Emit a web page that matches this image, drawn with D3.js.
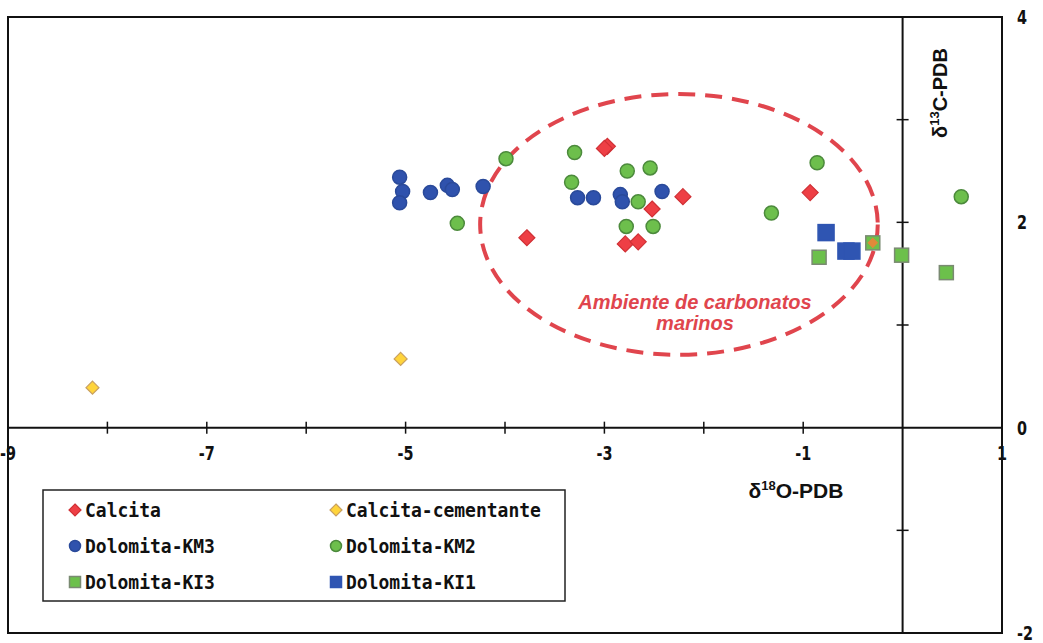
<!DOCTYPE html>
<html><head><meta charset="utf-8">
<script src="https://cdn.jsdelivr.net/npm/d3@7"></script>
<style>body{margin:0;background:#fff}svg{display:block}</style>
</head><body>
<svg id="c" width="1043" height="643"></svg>
<script>
// Data (δ18O, δ13C)
const calcita = [[-2.97,2.74],[-3.0,2.72],[-3.78,1.85],[-2.21,2.25],[-2.52,2.13],[-2.79,1.79],[-2.66,1.81],[-0.93,2.29]];
const calcitaCementante = [[-8.15,0.39],[-5.05,0.67]];
const dolomitaKM3 = [[-5.06,2.44],[-5.03,2.30],[-5.06,2.19],[-4.75,2.29],[-4.58,2.36],[-4.53,2.32],[-4.22,2.35],[-3.27,2.24],[-3.11,2.24],[-2.84,2.27],[-2.82,2.20],[-2.42,2.30]];
const dolomitaKM2 = [[-3.99,2.62],[-4.48,1.99],[-3.30,2.68],[-3.33,2.39],[-2.77,2.50],[-2.54,2.53],[-2.66,2.20],[-2.78,1.96],[-2.51,1.96],[-1.32,2.09],[-0.86,2.58],[0.59,2.25]];
const dolomitaKI3 = [[-0.84,1.66],[-0.30,1.80],[-0.01,1.68],[0.44,1.51]];
const dolomitaKI1 = [[-0.77,1.90],[-0.57,1.72],[-0.51,1.72]];
const calcitaOverlay = [[-0.30,1.80]];
const xTickLabels = [-9,-7,-5,-3,-1,1];
const yTickLabels = [4,2,0,-2];
const xMinorTicks = [-8,-7,-6,-5,-4,-3,-2,-1];
const yMinorTicks = [3,2,1,-1];
const ellipse = {cx:-2.25, cy:1.98, rx:2.0, ry:1.27};
const legendItems = [
  ["Calcita","diamond","#ee3f45","#d03035"],
  ["Calcita-cementante","diamond","#ffd43b","#c9a060"],
  ["Dolomita-KM3","circle","#2f52ad","#2a4a9a"],
  ["Dolomita-KM2","circle","#6dbf4c","#4c8a3c"],
  ["Dolomita-KI3","square","#6cc04b","#7a8a72"],
  ["Dolomita-KI1","square","#2f55b2","#2f55b2"]
];

const svg = d3.select("#c");
const x = d3.scaleLinear().domain([-9,1]).range([8,1002]);
const y = d3.scaleLinear().domain([-2,4]).range([633,17]);

// frame
svg.append("rect").attr("x",x(-9)).attr("y",y(4)).attr("width",x(1)-x(-9)).attr("height",y(-2)-y(4))
  .attr("fill","none").attr("stroke","#111").attr("stroke-width",2);
// axes lines
svg.append("line").attr("x1",x(-9)).attr("x2",x(1)).attr("y1",y(0)).attr("y2",y(0)).attr("stroke","#111").attr("stroke-width",2);
svg.append("line").attr("x1",x(0)).attr("x2",x(0)).attr("y1",y(4)).attr("y2",y(-2)).attr("stroke","#111").attr("stroke-width",2);
// ticks
svg.selectAll(".xt").data(xMinorTicks).join("line").attr("x1",d=>x(d)).attr("x2",d=>x(d))
  .attr("y1",y(0)-6).attr("y2",y(0)+6).attr("stroke","#111").attr("stroke-width",1.5);
svg.selectAll(".yt").data(yMinorTicks).join("line").attr("y1",d=>y(d)).attr("y2",d=>y(d))
  .attr("x1",x(0)-6).attr("x2",x(0)+6).attr("stroke","#111").attr("stroke-width",1.5);

const tickFont = "'DejaVu Sans Condensed','Liberation Sans Narrow',sans-serif";
svg.selectAll(".xl").data(xTickLabels).join("text")
  .attr("transform",d=>`translate(${x(d)},${y(0)+32}) scale(0.8,1)`)
  .attr("text-anchor","middle").attr("font-family",tickFont).attr("font-weight","bold").attr("font-size",20)
  .attr("fill","#111").text(d=>d);
svg.selectAll(".yl").data(yTickLabels).join("text")
  .attr("transform",d=>`translate(1017,${y(d)+7}) scale(0.8,1)`)
  .attr("font-family",tickFont).attr("font-weight","bold").attr("font-size",20)
  .attr("fill","#111").text(d=>d);

// axis titles
const titleFont = "'Liberation Sans',Arial,sans-serif";
const xt = svg.append("text").attr("x",796).attr("y",498).attr("text-anchor","middle")
  .attr("font-family",titleFont).attr("font-weight","bold").attr("font-size",21).attr("fill","#111");
xt.append("tspan").text("δ");
xt.append("tspan").attr("font-size",13).attr("dy",-8).text("18");
xt.append("tspan").attr("dy",8).text("O-PDB");
const yt = svg.append("text").attr("transform","translate(947,93) rotate(-90)").attr("text-anchor","middle")
  .attr("font-family",titleFont).attr("font-weight","bold").attr("font-size",20).attr("fill","#111");
yt.append("tspan").text("δ");
yt.append("tspan").attr("font-size",13).attr("dy",-8).text("13");
yt.append("tspan").attr("dy",8).text("C-PDB");

// ellipse
svg.append("ellipse").attr("cx",x(ellipse.cx)).attr("cy",y(ellipse.cy))
  .attr("rx",x(ellipse.cx+ellipse.rx)-x(ellipse.cx)).attr("ry",y(ellipse.cy-ellipse.ry)-y(ellipse.cy))
  .attr("fill","none").attr("stroke","#e0454d").attr("stroke-width",4).attr("stroke-dasharray","17,10");
svg.append("text").attr("x",695).attr("y",309).attr("text-anchor","middle")
  .attr("font-family",titleFont).attr("font-style","italic").attr("font-weight","bold")
  .attr("font-size",20).attr("fill","#e0454d").text("Ambiente de carbonatos");
svg.append("text").attr("x",695).attr("y",330).attr("text-anchor","middle")
  .attr("font-family",titleFont).attr("font-style","italic").attr("font-weight","bold")
  .attr("font-size",20).attr("fill","#e0454d").text("marinos");

// markers
function mark(g, shape, size, fill, stroke){
  if(shape==="circle") return g.append("circle").attr("r",size/2).attr("fill",fill).attr("stroke",stroke).attr("stroke-width",1.5);
  if(shape==="square") return g.append("rect").attr("x",-size/2).attr("y",-size/2).attr("width",size).attr("height",size).attr("fill",fill).attr("stroke",stroke).attr("stroke-width",1.5);
  const s=size/2;
  return g.append("path").attr("d",`M0,${-s}L${s},0L0,${s}L${-s},0Z`).attr("fill",fill).attr("stroke",stroke).attr("stroke-width",1.2);
}
function series(data, shape, size, fill, stroke){
  data.forEach(d=>{
    const g=svg.append("g").attr("transform",`translate(${x(d[0])},${y(d[1])})`);
    mark(g,shape,size,fill,stroke);
  });
}
series(calcitaCementante,"diamond",13,"#ffd43b","#c9a060");
series(dolomitaKM3,"circle",14,"#2f52ad","#2a4a9a");
series(dolomitaKM2,"circle",14,"#6dbf4c","#4c8a3c");
series(calcita,"diamond",16,"#ee3f45","#d03035");
series(dolomitaKI1,"square",16,"#2f55b2","#2f55b2");
series(dolomitaKI3,"square",14,"#6cc04b","#7a8a72");
series(calcitaOverlay,"diamond",9,"#e08a3a","#e08a3a");

// legend
svg.append("rect").attr("x",43).attr("y",490).attr("width",522).attr("height",111)
  .attr("fill","#fff").attr("stroke","#222").attr("stroke-width",1.5);
legendItems.forEach((it,i)=>{
  const col=i%2, row=Math.floor(i/2);
  const mx = col===0?75:336, my = 510+row*36;
  const g=svg.append("g").attr("transform",`translate(${mx},${my})`);
  mark(g,it[1],it[1]==="diamond"?12:11,it[2],it[3]);
  svg.append("text").attr("transform",`translate(${mx+10},${my+7}) scale(1,1.1)`)
    .attr("font-family","'DejaVu Sans Mono','Liberation Mono',monospace")
    .attr("font-weight","bold").attr("font-size",18).attr("fill","#111").text(it[0]);
});
</script>
</body></html>
